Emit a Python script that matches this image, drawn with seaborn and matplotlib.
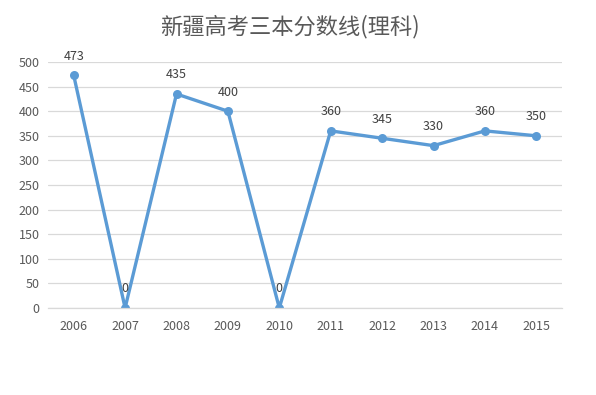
import matplotlib
matplotlib.use("Agg")
import matplotlib.pyplot as plt
import seaborn as sns
import pandas as pd

years = ["2006", "2007", "2008", "2009", "2010", "2011", "2012", "2013", "2014", "2015"]
scores = [473, 0, 435, 400, 0, 360, 345, 330, 360, 350]
yticks = [0, 50, 100, 150, 200, 250, 300, 350, 400, 450, 500]
title = "新疆高考三本分数线(理科)"

sns.set_theme(style="white")
plt.rcParams['font.family'] = ['Noto Sans CJK SC', 'DejaVu Sans']

df = pd.DataFrame({"year": years, "score": scores})

fig = plt.figure(figsize=(5.96, 3.95), dpi=100)
ax = fig.add_axes([48/596, 1-308/395, (562-48)/596, (308-62)/395])

sns.lineplot(data=df, x="year", y="score", ax=ax, color="#5B9BD5", linewidth=2.4,
             marker="o", markersize=6.5, markeredgewidth=0, sort=False)

ax.set_xlim(-0.5, len(years) - 0.5)
ax.set_ylim(0, 500)
ax.set_yticks(yticks)
ax.yaxis.grid(True, color="#D9D9D9", linewidth=0.9)
ax.set_axisbelow(True)
for s in ["top", "right", "left"]:
    ax.spines[s].set_visible(False)
ax.spines["bottom"].set_color("#D9D9D9")
ax.spines["bottom"].set_linewidth(0.9)
ax.tick_params(axis="both", length=0, labelsize=9, colors="#595959")
ax.tick_params(axis="x", pad=9)
ax.tick_params(axis="y", pad=6)
ax.set_xlabel("")
ax.set_ylabel("")

for i, v in enumerate(scores):
    ax.annotate(str(v), (i, v), xytext=(0, 9), textcoords="offset points",
                ha="center", va="bottom", fontsize=9, color="#404040",
                clip_on=False, annotation_clip=False)

fig.text(290/596, 1-27/395, title, ha="center", va="center", fontsize=16, color="#595959")

fig.savefig("out.png", dpi=100, facecolor="white")
